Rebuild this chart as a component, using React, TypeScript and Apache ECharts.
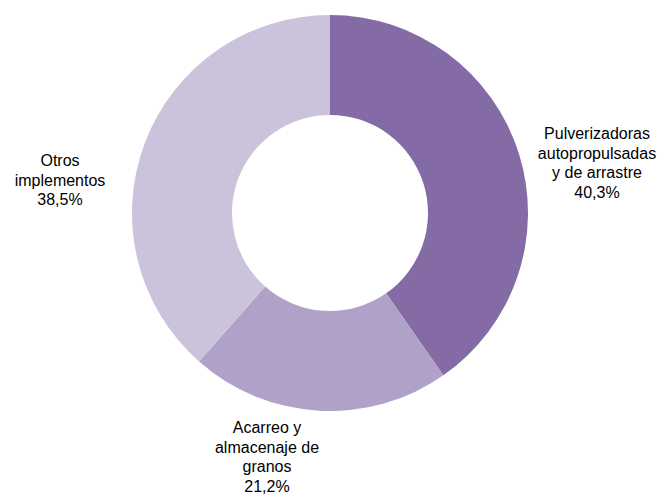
import React, { useEffect, useRef } from "react";
import * as echarts from "echarts";

const categories = [
  "Pulverizadoras\nautopropulsadas\ny de arrastre",
  "Acarreo y\nalmacenaje de\ngranos",
  "Otros\nimplementos",
];
const values = [40.3, 21.2, 38.5];
const valueLabels = ["40,3%", "21,2%", "38,5%"];
const colors = ["#846BA6", "#B0A1C8", "#CBC2DC"];
const labelPos: [number, number][] = [
  [597, 163],
  [267, 457],
  [60, 180],
];

export default function App() {
  const ref = useRef<HTMLDivElement>(null);
  useEffect(() => {
    if (!ref.current) return;
    const chart = echarts.init(ref.current, undefined, { renderer: "svg" });
    chart.setOption({
      animation: false,
      backgroundColor: "#ffffff",
      series: [
        {
          type: "pie",
          center: [330, 213],
          radius: [98, 198],
          startAngle: 90,
          clockwise: true,
          silent: true,
          data: categories.map((c, i) => ({
            name: c,
            value: values[i],
            itemStyle: { color: colors[i] },
          })),
          label: {
            show: true,
            position: "outside",
            formatter: (p: any) => `${p.name}\n${valueLabels[p.dataIndex]}`,
            fontFamily: "Liberation Sans, Arial, sans-serif",
            fontSize: 16,
            lineHeight: 19.5,
            color: "#000000",
            align: "center",
            overflow: "none",
            edgeDistance: 0,
          },
          labelLine: { show: false },
          labelLayout: (p: any) => ({
            x: labelPos[p.dataIndex][0],
            y: labelPos[p.dataIndex][1],
            align: "center",
            verticalAlign: "middle",
          }),
        },
      ],
    });
    return () => chart.dispose();
  }, []);
  return (
    <div
      ref={ref}
      style={{ position: "absolute", left: 0, top: 0, width: 660, height: 497 }}
    />
  );
}
